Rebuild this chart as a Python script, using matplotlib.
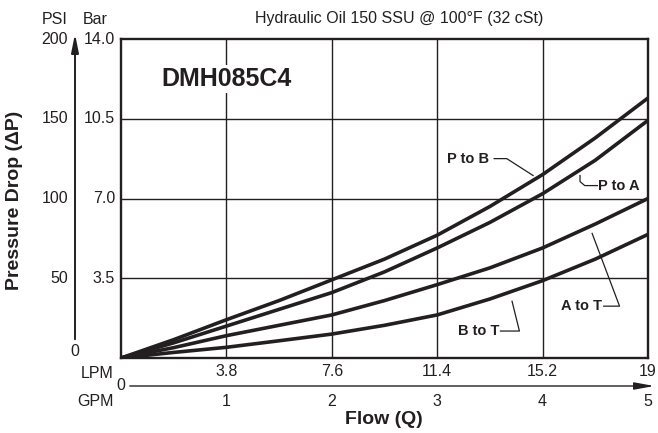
import matplotlib.pyplot as plt
from matplotlib.transforms import blended_transform_factory

plt.rcParams['font.family'] = ['Liberation Sans', 'DejaVu Sans']

# Данные: расход (GPM) и перепад давления (PSI)
flow_gpm = [0, 0.5, 1, 1.5, 2, 2.5, 3, 3.5, 4, 4.5, 5]
p_to_b = [0, 11.5, 24, 36, 49, 62, 77, 95, 115, 138, 163]
p_to_a = [0, 9.5, 20, 30.5, 41, 54, 69, 85, 103, 124, 149]
a_to_t = [0, 6.5, 14, 20.5, 27, 36, 46, 56.5, 69, 84, 100]
b_to_t = [0, 3.5, 6.7, 10.8, 15, 20.5, 27, 37, 48.5, 62, 77.5]

gpm_ticks = [1, 2, 3, 4, 5]
lpm_labels = ['3.8', '7.6', '11.4', '15.2', '19']
psi_ticks = [50, 100, 150, 200]
bar_labels = ['3.5', '7.0', '10.5', '14.0']

W, H = 658, 433
ink = '#231f20'


def px(x, y):
    # пиксели картинки -> доли фигуры
    return x / W, 1 - y / H


fig = plt.figure(figsize=(W / 100, H / 100), dpi=100)
ax = fig.add_axes([121 / W, 75 / H, 527 / W, 319 / H])
ax.set_xlim(0, 5)
ax.set_ylim(0, 200)
ax.set_xticks([])
ax.set_yticks([])
for s in ax.spines.values():
    s.set_linewidth(1.7)
    s.set_color(ink)

# Сетка
for g in gpm_ticks[:-1]:
    ax.axvline(g, color=ink, linewidth=1.0, zorder=1)
for p in psi_ticks[:-1]:
    ax.axhline(p, color=ink, linewidth=1.0, zorder=1)

# Кривые
for ys in [p_to_b, p_to_a, a_to_t, b_to_t]:
    ax.plot(flow_gpm, ys, color=ink, linewidth=2.6, solid_capstyle='round',
            solid_joinstyle='round', zorder=3)

# Подписи кривых с выносками
lab = dict(fontsize=10.5, fontweight='bold', color=ink, va='center', zorder=5)
ax.text(3.29, 125, 'P to B', ha='center', **lab)
ax.plot([3.54, 3.66, 3.91], [125, 125, 114.4], color=ink, linewidth=0.9)
ax.text(4.53, 108, 'P to A', ha='left', **lab)
ax.plot([4.355, 4.355, 4.40, 4.52], [114.4, 110.6, 108.1, 108.1], color=ink, linewidth=0.9)
ax.text(4.56, 32.5, 'A to T', ha='right', **lab)
ax.plot([4.58, 4.73, 4.47], [32.5, 32.5, 78.1], color=ink, linewidth=0.9)
ax.text(3.39, 16.9, 'B to T', ha='center', **lab)
ax.plot([3.6, 3.78, 3.71], [16.9, 16.9, 35.6], color=ink, linewidth=0.9)

ax.text(1.0, 175, 'DMH085C4', ha='center', va='center', fontsize=18,
        fontweight='bold', color=ink, zorder=4,
        bbox=dict(facecolor='white', edgecolor='none', pad=1.5))

# Заголовок и шапка оси
fig.text(*px(399, 18), 'Hydraulic Oil 150 SSU @ 100°F (32 cSt)', ha='center', va='center',
         fontsize=11.5, color=ink)
fig.text(*px(68, 19), 'PSI', ha='right', va='center', fontsize=11.5, color=ink)
fig.text(*px(83, 19), 'Bar', ha='left', va='center', fontsize=11.5, color=ink)

# Вертикальная ось со стрелкой
ax.annotate('', xy=px(75, 31), xytext=px(75, 342), xycoords='figure fraction',
            arrowprops=dict(arrowstyle='-|>,head_length=1.1,head_width=0.22',
                            color=ink, linewidth=1.4, mutation_scale=10))
ytr = blended_transform_factory(fig.transFigure, ax.transData)
for p, b in zip(psi_ticks, bar_labels):
    fig.text(68 / W, p, str(p), transform=ytr, ha='right', va='center', fontsize=11.5, color=ink)
    fig.text(115 / W, p, b, transform=ytr, ha='right', va='center', fontsize=11.5, color=ink)
fig.text(*px(75, 352), '0', ha='center', va='center', fontsize=11.5, color=ink)

fig.text(*px(15, 200), 'Pressure Drop (ΔP)', ha='center', va='center', rotation=90,
         fontsize=14, fontweight='bold', color=ink)

# Горизонтальная ось GPM со стрелкой
ax.annotate('', xy=px(657, 386), xytext=px(127, 386), xycoords='figure fraction',
            arrowprops=dict(arrowstyle='-|>,head_length=1.2,head_width=0.22',
                            color=ink, linewidth=1.0, mutation_scale=10))
fig.text(*px(120.5, 386), '0', ha='center', va='center', fontsize=11.5, color=ink)
xtr = blended_transform_factory(ax.transData, fig.transFigure)
for g, l in zip(gpm_ticks, lpm_labels):
    fig.text(g, 1 - 372 / H, l, transform=xtr, ha='center', va='center', fontsize=11.5, color=ink)
    fig.text(g, 1 - 401 / H, str(g), transform=xtr, ha='center', va='center', fontsize=11.5, color=ink)
fig.text(*px(114, 373), 'LPM', ha='right', va='center', fontsize=11.5, color=ink)
fig.text(*px(114, 401), 'GPM', ha='right', va='center', fontsize=11.5, color=ink)
fig.text(*px(384, 420), 'Flow (Q)', ha='center', va='center', fontsize=14,
         fontweight='bold', color=ink)

plt.savefig('out.png', dpi=100)
